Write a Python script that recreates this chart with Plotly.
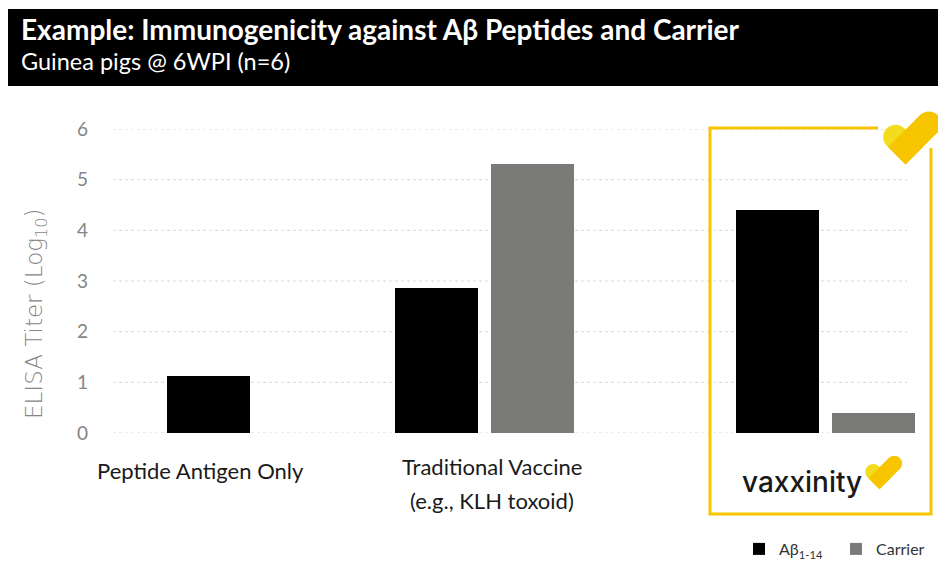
import math
import plotly.graph_objects as go

# ---------------- data ----------------
categories = ["Peptide Antigen Only", "Traditional Vaccine<br>(e.g., KLH toxoid)", "vaxxinity"]
series_names = ["Aβ<sub>1-14</sub>", "Carrier"]
abeta_values = [1.13, 2.87, 4.40]
carrier_values = [0.0, 5.30, 0.39]
y_ticks = [0, 1, 2, 3, 4, 5, 6]
y_title = "ELISA Titer (Log<sub>10</sub>)"
title_text = "Example: Immunogenicity against Aβ Peptides and Carrier"
subtitle_text = "Guinea pigs @ 6WPI (n=6)"

# ---------------- layout constants (screen pixels) ----------------
SCREEN_W, SCREEN_H = 946, 573
BODY = 8                                      # page body margin
W, H = SCREEN_W - 2 * BODY, SCREEN_H - 2 * BODY
PL, PR, PT, PB = 113, 920, 129, 433          # plot area in screen pixels
GROUP_X = [0, 2, 5]                            # group slots (gap before vaxxinity)
X_RANGE = [-1.256, 5.832]
BAR_W = 0.73
OFF_A, OFF_C = -0.782, 0.06

YELLOW = "#f6c500"
YELLOW_LIGHT = "#f3dc1c"
GRID = "#d3dcd8"
GRAY_TXT = "#858585"


def xp(px):
    return (px - PL) / (PR - PL)


def yp(py):
    return (PB - py) / (PB - PT)


def pt(p):
    return f"{xp(p[0]):.5f},{yp(p[1]):.5f}"


def rect_path(p, q, w):
    dx, dy = q[0] - p[0], q[1] - p[1]
    ln = math.hypot(dx, dy)
    nx, ny = -dy / ln * w, dx / ln * w
    pts = [(p[0] + nx, p[1] + ny), (q[0] + nx, q[1] + ny),
           (q[0] - nx, q[1] - ny), (p[0] - nx, p[1] - ny)]
    return "M " + " L ".join(pt(a) for a in pts) + " Z"


def circle(c, r, color):
    return dict(type="circle", xref="paper", yref="paper",
                x0=xp(c[0] - r), x1=xp(c[0] + r), y0=yp(c[1] + r), y1=yp(c[1] - r),
                fillcolor=color, line=dict(width=0), layer="above")


def heart(tx, ty, s):
    w, a, c = 12.3 * s, 14.2 * s, 33.0 * s
    r2 = math.sqrt(0.5)
    d1 = (r2, r2)
    d2 = (r2, -r2)
    B = (tx, ty - w * math.sqrt(2))
    L = (B[0] - a * d1[0], B[1] - a * d1[1])
    R = (B[0] + c * d2[0], B[1] + c * d2[1])
    Bext1 = (B[0] + w * d1[0], B[1] + w * d1[1])
    Bext2 = (B[0] - w * d2[0], B[1] - w * d2[1])
    return [
        circle(L, w, YELLOW_LIGHT),
        dict(type="path", xref="paper", yref="paper", path=rect_path(L, Bext1, w),
             fillcolor=YELLOW_LIGHT, line=dict(width=0), layer="above"),
        dict(type="path", xref="paper", yref="paper", path=rect_path(Bext2, R, w),
             fillcolor=YELLOW, line=dict(width=0), layer="above"),
        circle(R, w, YELLOW),
    ]


fig = go.Figure()
fig.add_trace(go.Bar(x=GROUP_X, y=abeta_values, name=series_names[0],
                     width=BAR_W, offset=OFF_A, marker=dict(color="#000000", line=dict(width=0))))
fig.add_trace(go.Bar(x=GROUP_X, y=carrier_values, name=series_names[1],
                     width=BAR_W, offset=OFF_C, marker=dict(color="#7a7a78", line=dict(width=0))))

shapes = []
for v in y_ticks:
    shapes.append(dict(type="line", xref="paper", yref="y", x0=0, x1=xp(907), y0=v, y1=v,
                       line=dict(color=GRID, width=1, dash="dot"), layer="below"))
shapes.append(dict(type="rect", xref="paper", yref="paper", x0=xp(0), x1=xp(946),
                   y0=yp(86), y1=yp(9), fillcolor="#000000", line=dict(width=0)))
box = [(878, 128), (710, 128), (710, 514), (931, 514), (931, 148)]
shapes.append(dict(type="path", xref="paper", yref="paper",
                   path="M " + " L ".join(pt(p) for p in box),
                   line=dict(color=YELLOW, width=3), layer="above"))
shapes += heart(905.5, 164.5, 1.0)
shapes += heart(879.5, 489.3, 0.635)

annotations = [
    dict(text=f"<b>{title_text}</b>", xref="paper", yref="paper", x=xp(19), y=yp(29),
         xanchor="left", yanchor="middle", showarrow=False,
         font=dict(family="Lato", size=28, color="#ffffff")),
    dict(text=subtitle_text, xref="paper", yref="paper", x=xp(19), y=yp(61),
         xanchor="left", yanchor="middle", showarrow=False,
         font=dict(family="Lato", size=23.5, color="#ffffff")),
    dict(text=y_title, xref="paper", yref="paper", x=xp(36), y=yp(314), textangle=-90,
         xanchor="center", yanchor="middle", showarrow=False,
         font=dict(family="DejaVu Sans", size=23, color=GRAY_TXT, weight=300)),
]
lab_font = dict(family="Lato", size=22, color="#1a1a1a")
annotations.append(dict(text=categories[0], xref="x", yref="paper", x=(200 - 256) / 113.85 + GROUP_X[0],
                        y=yp(470), showarrow=False, font=lab_font, xanchor="center", yanchor="middle"))
line1, line2 = categories[1].split("<br>")
annotations.append(dict(text=line1, xref="x", yref="paper", x=GROUP_X[1] + 0.07,
                        y=yp(466), showarrow=False, font=lab_font, xanchor="center", yanchor="middle"))
annotations.append(dict(text=line2, xref="x", yref="paper", x=GROUP_X[1] + 0.07,
                        y=yp(500), showarrow=False, font=lab_font, xanchor="center", yanchor="middle"))
annotations.append(dict(text=categories[2], xref="paper", yref="paper", x=xp(740), y=yp(482),
                        showarrow=False, xanchor="left", yanchor="middle",
                        font=dict(family="Inter", size=28, color="#1a1a1a", weight=500)))

fig.update_layout(
    width=W, height=H,
    margin=dict(l=PL - BODY, r=BODY + W - PR, t=PT - BODY, b=BODY + H - PB, pad=0,
                autoexpand=False),
    paper_bgcolor="#ffffff", plot_bgcolor="#ffffff",
    showlegend=True,
    legend=dict(orientation="h", x=xp(933), xanchor="right", y=yp(549), yanchor="middle",
                font=dict(family="Lato", size=16, color="#333333"), bgcolor="rgba(0,0,0,0)",
                traceorder="normal", entrywidth=52),
    xaxis=dict(range=X_RANGE, showgrid=False, zeroline=False, showline=False,
               showticklabels=False, ticks=""),
    yaxis=dict(range=[0, 6], tickvals=y_ticks, showgrid=False, zeroline=False, showline=False,
               tickfont=dict(family="Lato", size=19, color=GRAY_TXT), ticklabelstandoff=24),
    shapes=shapes,
    annotations=annotations,
    bargap=0,
)

fig.write_html("out.html")
